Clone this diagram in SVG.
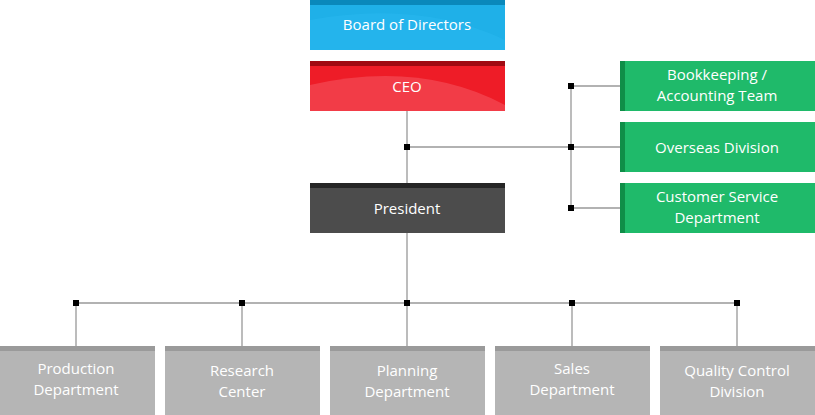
<svg xmlns="http://www.w3.org/2000/svg" width="815" height="415" viewBox="0 0 815 415">
<style>
text{font-family:"Open Sans","Noto Sans",sans-serif;font-size:15px;fill:#fff;text-anchor:middle}
.ln{stroke:#999;stroke-width:1.3;fill:none}
.g{fill:#1fba6a}.gs{fill:#0f8e48}
.b{fill:#b5b5b5}.bs{fill:#9a9a9a}
</style>
<defs>
<rect id="dot" x="-3" y="-3" width="6" height="6" fill="#000"/>
</defs>
<g id="connectors">
<path class="ln" d="M407 111V183M407 147H571M571 86V208M571 86H620M571 147H620M571 208H620M407 233V303M76 303H737M76 303V346M242 303V346M407 303V346M572 303V346M737 303V346"/>
<use href="#dot" x="407" y="147"/><use href="#dot" x="571" y="86"/><use href="#dot" x="571" y="147"/><use href="#dot" x="571" y="208"/>
<use href="#dot" x="76" y="303"/><use href="#dot" x="242" y="303"/><use href="#dot" x="407" y="303"/><use href="#dot" x="572" y="303"/><use href="#dot" x="737" y="303"/>
</g>
<g id="board"><rect x="310" y="0" width="195" height="50" fill="#1fb0e8"/><path d="M310 20Q420 0 505 40V50H310Z" fill="#28b8ee" opacity="0.6"/><rect x="310" y="0" width="195" height="5" fill="#0a88bb"/><text x="407" y="30">Board of Directors</text></g>
<g id="ceo"><rect x="310" y="61" width="195" height="50" fill="#ee1c27"/><path d="M310 85Q420 60 505 105V111H310Z" fill="#f24550" opacity="0.8"/><rect x="310" y="61" width="195" height="5" fill="#a00a12"/><text x="407" y="92">CEO</text></g>
<g id="president"><rect x="310" y="183" width="195" height="50" fill="#4c4c4c"/><rect x="310" y="183" width="195" height="5" fill="#252525"/><text x="407" y="214">President</text></g>
<g id="bookkeeping"><rect class="g" x="620" y="61" width="195" height="50"/><rect class="gs" x="620" y="61" width="5" height="50"/><text x="717" y="80">Bookkeeping /</text><text x="717" y="101">Accounting Team</text></g>
<g id="overseas"><rect class="g" x="620" y="122" width="195" height="50"/><rect class="gs" x="620" y="122" width="5" height="50"/><text x="717" y="153">Overseas Division</text></g>
<g id="customer"><rect class="g" x="620" y="183" width="195" height="50"/><rect class="gs" x="620" y="183" width="5" height="50"/><text x="717" y="202">Customer Service</text><text x="717" y="223">Department</text></g>
<g id="production"><rect class="b" x="0" y="346" width="155" height="69"/><rect class="bs" x="0" y="346" width="155" height="5"/><text x="76" y="374">Production</text><text x="76" y="395">Department</text></g>
<g id="research"><rect class="b" x="165" y="346" width="155" height="69"/><rect class="bs" x="165" y="346" width="155" height="5"/><text x="242" y="376">Research</text><text x="242" y="397">Center</text></g>
<g id="planning"><rect class="b" x="330" y="346" width="155" height="69"/><rect class="bs" x="330" y="346" width="155" height="5"/><text x="407" y="376">Planning</text><text x="407" y="397">Department</text></g>
<g id="sales"><rect class="b" x="495" y="346" width="155" height="69"/><rect class="bs" x="495" y="346" width="155" height="5"/><text x="572" y="374">Sales</text><text x="572" y="395">Department</text></g>
<g id="quality"><rect class="b" x="660" y="346" width="155" height="69"/><rect class="bs" x="660" y="346" width="155" height="5"/><text x="737" y="376">Quality Control</text><text x="737" y="397">Division</text></g>
</svg>
